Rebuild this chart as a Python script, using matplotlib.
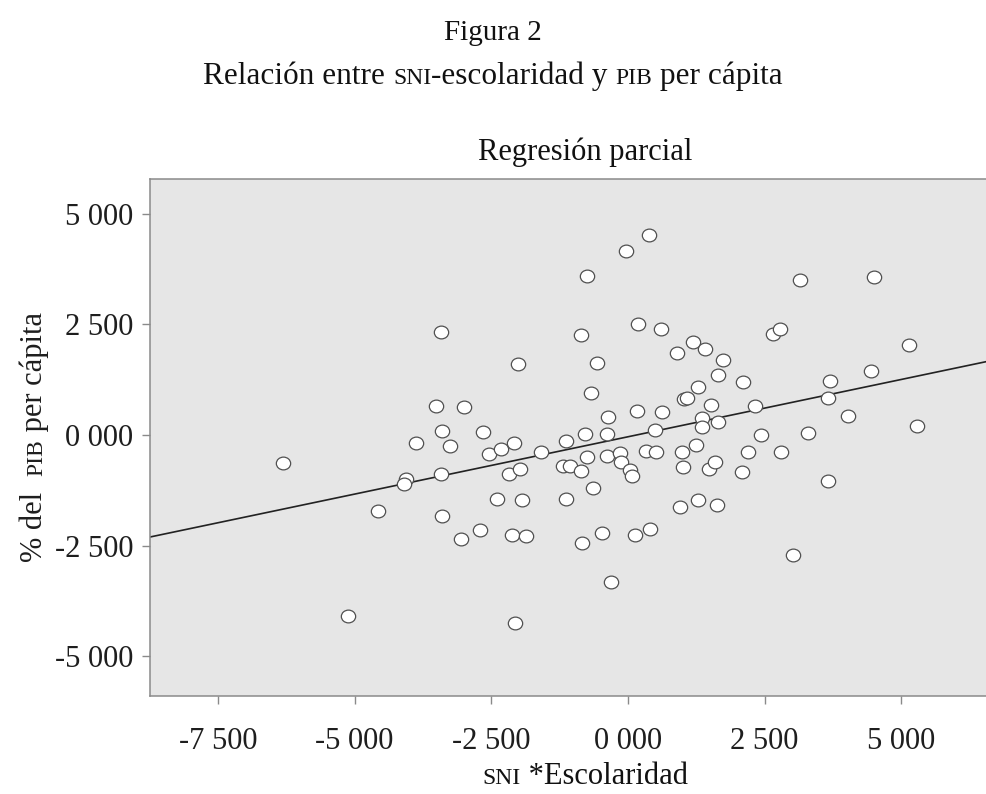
import matplotlib
matplotlib.use("Agg")
import matplotlib.pyplot as plt
import matplotlib.path as mpath
import numpy as np

# partial regression residuals
sni_esc = [-6319, -5121, -4573, -4060, -4097, -3883, -3512, -3415, -3396, -3415,
           -3396, -3256, -3060, -3005, -2712, -2648, -2548, -2392, -2332, -2177,
           -2116, -2080, -2017, -1975, -1939, -2061, -1866, -1588, -1143, -1180,
           -1064, -1125, -860, -741, -783, -860, -744, -682, -567, -646,
           -841, -470, -311, -390, -369, -393, -152, -134, -37, 37,
           79, 123, 177, 159, 333, 390, 397, 497, 512, 609,
           613, 902, 946, 988, 1002, 1033, 1079, 1183, 1244, 1280,
           1280, 1359, 1359, 1414, 1487, 1518, 1597, 1633, 1650, 1652,
           1743, 2080, 2098, 2186, 2323, 2436, 2652, 2780, 2793, 3023,
           3146, 3301, 3652, 3695, 3654, 4024, 4439, 4494, 5145, 5280]
pib = [-626, -4082, -1717, -1005, -1118, -176, 666, 2338, 90, -874,
       -1830, -244, -2343, 626, -2142, 61, -429, -1453, -309, -892,
       -2254, -176, 1604, -757, -1475, -4240, -2277, -380, -131, -694,
       -694, -1453, -802, -508, 27, 2259, 3592, 953, 1626, -1202,
       -2451, -2207, -3321, 27, 407, -470, -411, -621, 4150, -791,
       -915, -2259, 2501, 542, -355, 4511, -2117, 117, -380, 2388,
       513, 1852, -1633, -380, -734, 806, 847, 2094, -221, 1078,
       -1475, 377, 185, 1943, -761, 673, -621, -1588, 1362, 287,
       1694, -825, 1190, -380, 651, -11, 2275, 2388, -380, -2704,
       3501, 45, 831, 1227, -1028, 429, 1453, 3569, 2033, 210]

fit_slope = 0.259
fit_intercept = -40

xticks = [-7500, -5000, -2500, 0, 2500, 5000]
xtick_labels = ["-7 500", "-5 000", "-2 500", "0 000", "2 500", "5 000"]
yticks = [-5000, -2500, 0, 2500, 5000]
ytick_labels = ["-5 000", "-2 500", "0 000", "2 500", "5 000"]

SERIF = ["Liberation Serif", "DejaVu Serif"]
W, H = 986, 794

fig = plt.figure(figsize=(W / 100, H / 100), dpi=100)
ax = fig.add_axes([150 / W, 1 - 696 / H, (1020 - 150) / W, (696 - 179) / H])
ax.set_facecolor("#e6e6e6")
ax.set_xlim(-8743, 7170)
ax.set_ylim(-5896, 5783)

circ = mpath.Path.unit_circle()
ellipse = mpath.Path(circ.vertices * [1.12, 1.0], circ.codes)

ax.axline((0, fit_intercept), slope=fit_slope, color="#222222", lw=1.2, zorder=2)
ax.plot(sni_esc, pib, ls="none", marker=ellipse, ms=10.3, mfc="white",
        mec="#505050", mew=0.9, zorder=3)

ax.set_xticks(xticks, labels=xtick_labels)
ax.set_yticks(yticks, labels=ytick_labels)
for lab in ax.get_xticklabels() + ax.get_yticklabels():
    lab.set_fontfamily(SERIF)
    lab.set_fontsize(22)
    lab.set_color("#1e1e1e")
ax.tick_params(axis="both", direction="out", length=6, width=1, color="#8a8a8a")
ax.tick_params(axis="x", pad=16)
ax.tick_params(axis="y", pad=6)
for side, sp in ax.spines.items():
    sp.set_color("#8a8a8a")
    sp.set_linewidth(1.1)

renderer = fig.canvas.get_renderer()


def text_width(s, size):
    t = fig.text(0, 0, "|" + s + "|", fontsize=size, family=SERIF)
    w1 = t.get_window_extent(renderer).width
    t.set_text("||")
    w2 = t.get_window_extent(renderer).width
    t.remove()
    return w1 - w2


def mixed_text(pieces, cx, cy, vertical=False):
    # pieces: (text, size); cx, cy in pixels from top-left; cy is baseline
    widths = [text_width(s, size) for s, size in pieces]
    pos = -sum(widths) / 2
    for (s, size), w in zip(pieces, widths):
        if vertical:
            fig.text(cx / W, 1 - (cy - pos) / H, s, fontsize=size,
                     family=SERIF, rotation=90, rotation_mode="anchor",
                     ha="left", va="baseline", color="#1e1e1e")
        else:
            fig.text((cx + pos) / W, 1 - cy / H, s, fontsize=size,
                     family=SERIF, ha="left", va="baseline", color="#111111")
        pos += w


mixed_text([("Figura 2", 21)], 493, 40)
mixed_text([("Relación entre ", 22.5), ("SNI", 17), ("-escolaridad y ", 22.5),
            ("PIB", 17), (" per cápita", 22.5)], 493, 84)
mixed_text([("Regresión parcial", 22)], 585, 160)
mixed_text([("SNI", 17), (" *Escolaridad", 22)], 585, 784)
mixed_text([("% del  ", 22), ("PIB", 17), (" per cápita", 22)], 42, 437,
           vertical=True)

fig.savefig("out.png", dpi=100)
